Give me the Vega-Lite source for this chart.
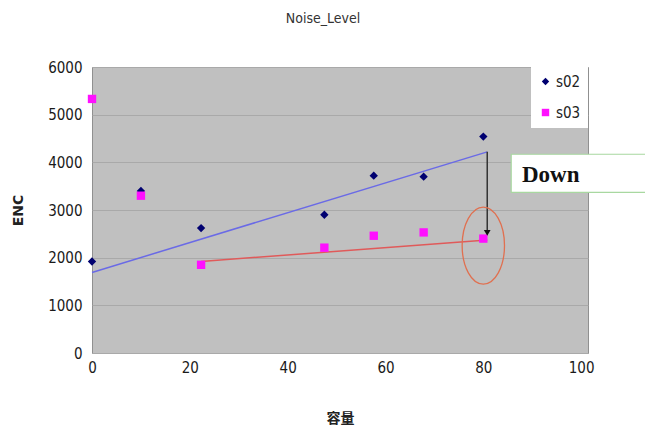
{
  "$schema": "https://vega.github.io/schema/vega-lite/v6.json",
  "width": 496,
  "height": 286,
  "autosize": "none",
  "padding": {"left": 92, "top": 67, "right": 57, "bottom": 86},
  "background": "white",
  "title": {"text": "Noise_Level", "fontSize": 14, "font": "DejaVu Sans Condensed", "fontWeight": "normal", "color": "#333", "offset": 34, "dx": -17},
  "config": {
    "view": {"fill": "#c0c0c0", "stroke": "#909090"},
    "axis": {"labelFont": "DejaVu Sans Condensed", "labelFontSize": 15, "labelColor": "#1a1a1a", "titleFont": "DejaVu Sans", "titleFontSize": 14, "titleColor": "#222", "titleFontWeight": "bold", "ticks": false, "domain": false}
  },
  "datasets": {
    "pts": [
      {"cap": 0, "enc": 1920, "series": "s02"},
      {"cap": 10, "enc": 3400, "series": "s02"},
      {"cap": 22.3, "enc": 2620, "series": "s02"},
      {"cap": 47.5, "enc": 2900, "series": "s02"},
      {"cap": 57.6, "enc": 3720, "series": "s02"},
      {"cap": 67.8, "enc": 3700, "series": "s02"},
      {"cap": 80, "enc": 4540, "series": "s02"},
      {"cap": 0, "enc": 5330, "series": "s03"},
      {"cap": 10, "enc": 3300, "series": "s03"},
      {"cap": 22.3, "enc": 1850, "series": "s03"},
      {"cap": 47.5, "enc": 2210, "series": "s03"},
      {"cap": 57.6, "enc": 2460, "series": "s03"},
      {"cap": 67.8, "enc": 2530, "series": "s03"},
      {"cap": 80, "enc": 2400, "series": "s03"}
    ],
    "trend02": [{"cap": 0, "enc": 1690}, {"cap": 80.8, "enc": 4220}],
    "trend03": [{"cap": 22.3, "enc": 1920}, {"cap": 80.8, "enc": 2370}],
    "arrow": [{"cap": 80.8, "top": 4220, "bottom": 2520}],
    "ellipse": [{"cap": 80, "enc": 2253}],
    "box": [{"x1": 85.7, "x2": 125, "y1": 4170, "y2": 3370, "tx": 87.9, "ty": 3740, "label": "Down"}]
  },
  "layer": [
    {
      "data": {"name": "trend02"},
      "mark": {"type": "line", "color": "#6a6ae6", "strokeWidth": 1.5},
      "encoding": {
        "x": {"field": "cap", "type": "quantitative", "scale": {"domain": [0, 101.4], "nice": false}, "axis": {"values": [0, 20, 40, 60, 80, 100], "grid": false, "labelFlush": false, "labelPadding": 7, "title": "容量", "titleFont": "Noto Sans CJK JP", "titlePadding": 36}},
        "y": {"field": "enc", "type": "quantitative", "scale": {"domain": [0, 6000]}, "axis": {"values": [0, 1000, 2000, 3000, 4000, 5000, 6000], "format": "d", "grid": true, "gridColor": "#a9a9a9", "labelFlush": false, "labelPadding": 10, "title": "ENC", "titlePadding": 22}}
      }
    },
    {
      "data": {"name": "trend03"},
      "mark": {"type": "line", "color": "#e05a5a", "strokeWidth": 1.5},
      "encoding": {"x": {"field": "cap", "type": "quantitative"}, "y": {"field": "enc", "type": "quantitative"}}
    },
    {
      "data": {"name": "arrow"},
      "mark": {"type": "rule", "color": "#333", "strokeWidth": 1.5},
      "encoding": {"x": {"field": "cap", "type": "quantitative"}, "y": {"field": "top", "type": "quantitative"}, "y2": {"field": "bottom"}}
    },
    {
      "data": {"name": "pts"},
      "mark": {"type": "point", "filled": true, "opacity": 1},
      "encoding": {
        "x": {"field": "cap", "type": "quantitative"},
        "y": {"field": "enc", "type": "quantitative"},
        "color": {"field": "series", "type": "nominal", "scale": {"domain": ["s02", "s03"], "range": ["#000070", "#ff10ff"]}, "legend": {"title": null, "orient": "top-right", "offset": 0, "fillColor": "white", "padding": 7, "rowPadding": 15, "labelFont": "DejaVu Sans Condensed", "labelFontSize": 15, "labelColor": "#222", "symbolSize": 55, "labelOffset": 3}},
        "shape": {"field": "series", "type": "nominal", "scale": {"domain": ["s02", "s03"], "range": ["diamond", "square"]}},
        "size": {"value": 70}
      }
    },
    {
      "data": {"name": "arrow"},
      "mark": {"type": "point", "shape": "triangle-down", "filled": true, "color": "#111", "size": 45, "opacity": 1},
      "encoding": {"x": {"field": "cap", "type": "quantitative"}, "y": {"field": "bottom", "type": "quantitative"}}
    },
    {
      "data": {"name": "ellipse"},
      "mark": {"type": "point", "shape": "M0,-1 A0.55,1 0 1,1 0,1 A0.55,1 0 1,1 0,-1 Z", "filled": false, "color": "#e07050", "strokeWidth": 1.3, "size": 5930, "opacity": 1},
      "encoding": {"x": {"field": "cap", "type": "quantitative"}, "y": {"field": "enc", "type": "quantitative"}}
    },
    {
      "data": {"name": "box"},
      "mark": {"type": "rect", "fill": "white", "stroke": "#a8d8a0", "strokeWidth": 1.2},
      "encoding": {"x": {"field": "x1", "type": "quantitative"}, "x2": {"field": "x2"}, "y": {"field": "y1", "type": "quantitative"}, "y2": {"field": "y2"}}
    },
    {
      "data": {"name": "box"},
      "mark": {"type": "text", "align": "left", "baseline": "middle", "font": "Liberation Serif", "fontWeight": "bold", "fontSize": 23, "color": "#111"},
      "encoding": {"x": {"field": "tx", "type": "quantitative"}, "y": {"field": "ty", "type": "quantitative"}, "text": {"field": "label"}}
    }
  ]
}
